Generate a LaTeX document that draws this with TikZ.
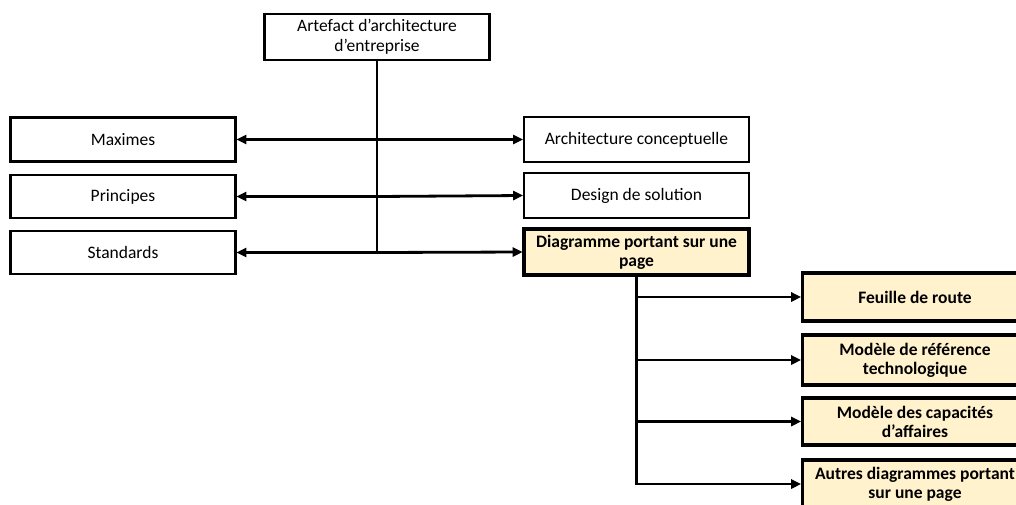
\documentclass[tikz,border=0pt]{standalone}
\usepackage{fontspec}
\setmainfont{Carlito}
\usetikzlibrary{arrows.meta}
\definecolor{cream}{HTML}{FFF2CC}
\tikzset{
  box/.style={draw=black, line width=2.8pt, fill=white, minimum width=225pt,
    align=center, inner sep=1pt,
    font=\fontsize{17.5}{20}\selectfont},
  hibox/.style={box, fill=cream, line width=3.6pt, font=\bfseries\fontsize{17.5}{19}\selectfont},
  link/.style={line width=2.8pt},
  arr/.style={link, -{Triangle[length=10pt,width=9pt]}, shorten >=-0.5pt}
}
\begin{document}
\begin{tikzpicture}[x=1pt,y=-1pt]
\useasboundingbox (0,0) rectangle (1016,504);
\begin{scope}
\clip (0,0) rectangle (1016,504);
% root
\node[box, minimum height=46pt] (root) at (377,37) {Artefact d’architecture\\d’entreprise};
% left column
\node[box, minimum height=44pt] (max) at (123,139.5) {Maximes};
\node[box, minimum height=43pt] (pri) at (123,196.5) {Principes};
\node[box, minimum height=43pt] (sta) at (123,252.5) {Standards};
% right column
\node[box, minimum height=45pt] (arc) at (636.5,139.5) {Architecture conceptuelle};
\node[box, minimum height=45pt] (des) at (636.5,195.5) {Design de solution};
\node[hibox, minimum height=46pt] (dia) at (636.5,252) {Diagramme portant sur une\\page};
% one-page diagrams
\node[hibox, minimum height=48pt] (feu) at (915,297) {Feuille de route};
\node[hibox, minimum height=50pt] (ref) at (915,360) {Modèle de référence\\technologique};
\node[hibox, minimum height=47pt] (cap) at (915,421.5) {Modèle des capacités\\d’affaires};
\node[hibox, minimum height=48pt] (aut) at (915,484) {Autres diagrammes portant\\sur une page};
% main trunk
\coordinate (j1) at (root.south |- max.east);
\coordinate (j2) at (root.south |- pri.east);
\coordinate (j3) at (root.south |- sta.east);
\draw[link] (root.south) -- (j3);
\draw[arr] (j1) -- (max.east);
\draw[arr] (j2) -- (pri.east);
\draw[arr] (j3) -- (sta.east);
\draw[arr] (j1) -- (arc.west);
\draw[arr] (j2) -- (des.west);
\draw[arr] (j3) -- (dia.west);
% secondary trunk
\coordinate (k1) at (dia.south |- feu.west);
\coordinate (k2) at (dia.south |- ref.west);
\coordinate (k3) at (dia.south |- cap.west);
\coordinate (k4) at (dia.south |- aut.west);
\draw[link] (dia.south) -- ([yshift=1.4pt]k4);
\draw[arr] (k1) -- (feu.west);
\draw[arr] (k2) -- (ref.west);
\draw[arr] (k3) -- (cap.west);
\draw[arr] ([xshift=-1.4pt]k4) -- (aut.west);
\end{scope}
\end{tikzpicture}
\end{document}
